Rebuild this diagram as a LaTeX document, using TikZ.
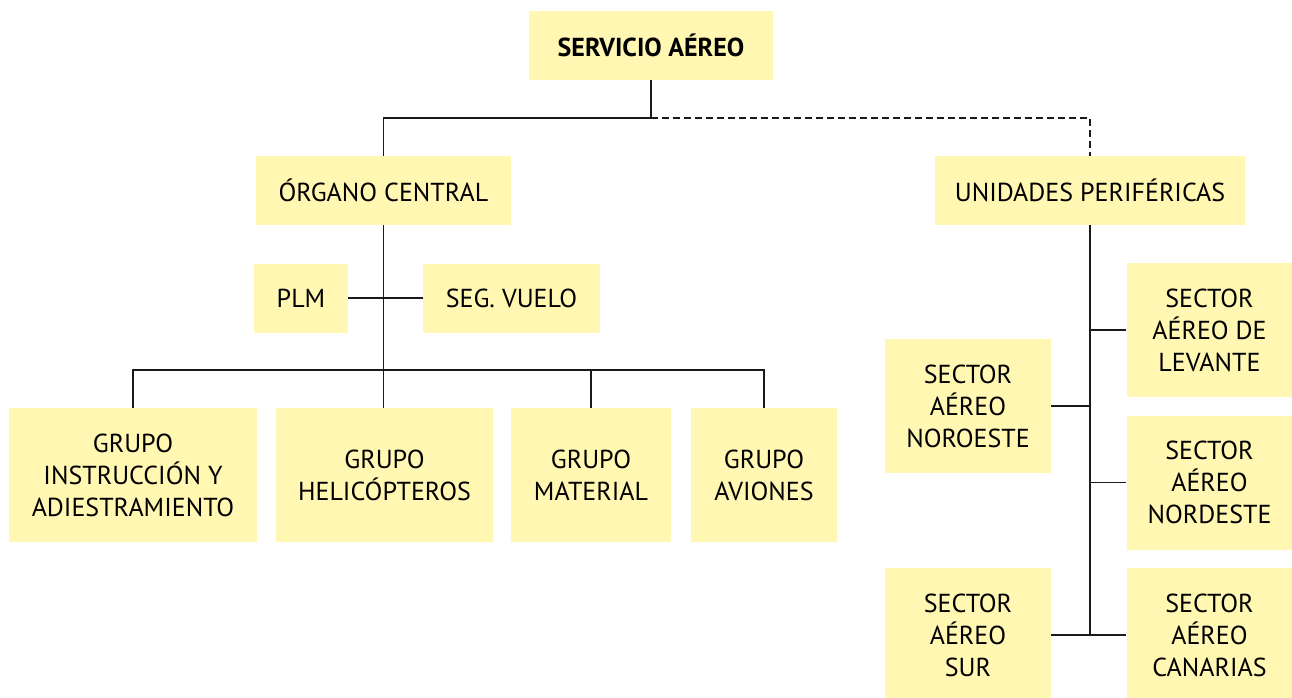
\documentclass[tikz,border=0pt]{standalone}
\usepackage{fontspec}
\setmainfont{PT Sans}
\usetikzlibrary{positioning}
\definecolor{orgfill}{HTML}{FFF7B2}
\definecolor{orgline}{HTML}{1A1A1A}

\begin{document}
\begin{tikzpicture}[x=1pt,y=-1pt,
  font=\fontsize{26}{32}\selectfont,
  unit/.style={fill=orgfill,align=center,inner sep=0pt,minimum height=69pt},
  grp/.style={fill=orgfill,align=center,inner sep=0pt,minimum height=134pt},
  sect/.style={grp,minimum width=166pt},
  link/.style={draw=orgline,line width=1.2pt},
  soft/.style={link,dash pattern=on 7pt off 4pt}]

\useasboundingbox (0,0) rectangle (1292,697);

% ---------------- head and the two branches ---------------------------------
\node[unit,minimum width=244pt,font=\fontsize{26}{32}\selectfont\bfseries] (srv)
  at (651,45.5) {SERVICIO AÉREO};
\node[unit,minimum width=255pt] (org) at (383.5,190.5) {ÓRGANO CENTRAL};
\node[unit,minimum width=310pt] (uni) at (1090,190.5) {UNIDADES PERIFÉRICAS};

\coordinate (topbus) at (651,118);
\draw[link] (srv.south) -- (topbus) -| (org.north);
\draw[soft] (topbus) -| (uni.north);

% ---------------- organo central --------------------------------------------
\node[unit,minimum width=94pt]  (plm) at (301,298)   {PLM};
\node[unit,minimum width=177pt] (seg) at (511.5,298) {SEG. VUELO};

\node[grp,minimum width=248pt] (ins) at (133,475)   {GRUPO\\INSTRUCCIÓN Y\\ADIESTRAMIENTO};
\node[grp,minimum width=217pt] (hel) at (384.5,475) {GRUPO\\HELICÓPTEROS};
\node[grp,minimum width=160pt] (mat) at (591,475)   {GRUPO\\MATERIAL};
\node[grp,minimum width=146pt] (avi) at (764,475)   {GRUPO\\AVIONES};

\coordinate (grpbus) at (384,370);
\draw[link] (org.south) -- (org.south |- hel.north);
\draw[link] (plm.east) -- (seg.west);
\draw[link] (ins.north) |- (grpbus) -| (avi.north);
\draw[link] (mat.north) -- (mat.north |- grpbus);

% ---------------- unidades perifericas --------------------------------------
\node[sect] (lev)  at (1209.5,330)   {SECTOR\\AÉREO DE\\LEVANTE};
\node[sect] (noro) at (968,406)      {SECTOR\\AÉREO\\NOROESTE};
\node[sect] (nord) at (1209.5,482.5) {SECTOR\\AÉREO\\NORDESTE};
\node[sect] (sur)  at (968,635)      {SECTOR\\AÉREO\\SUR};
\node[sect] (can)  at (1209.5,635)   {SECTOR\\AÉREO\\CANARIAS};

\draw[link] (uni.south) |- (sur.east);
\draw[link] (uni.south |- can.west) -- (can.west);
\foreach \s in {lev,nord} \draw[link] (\s.west) -- (\s.west -| uni.south);
\draw[link] (noro.east) -- (noro.east -| uni.south);

\end{tikzpicture}
\end{document}
